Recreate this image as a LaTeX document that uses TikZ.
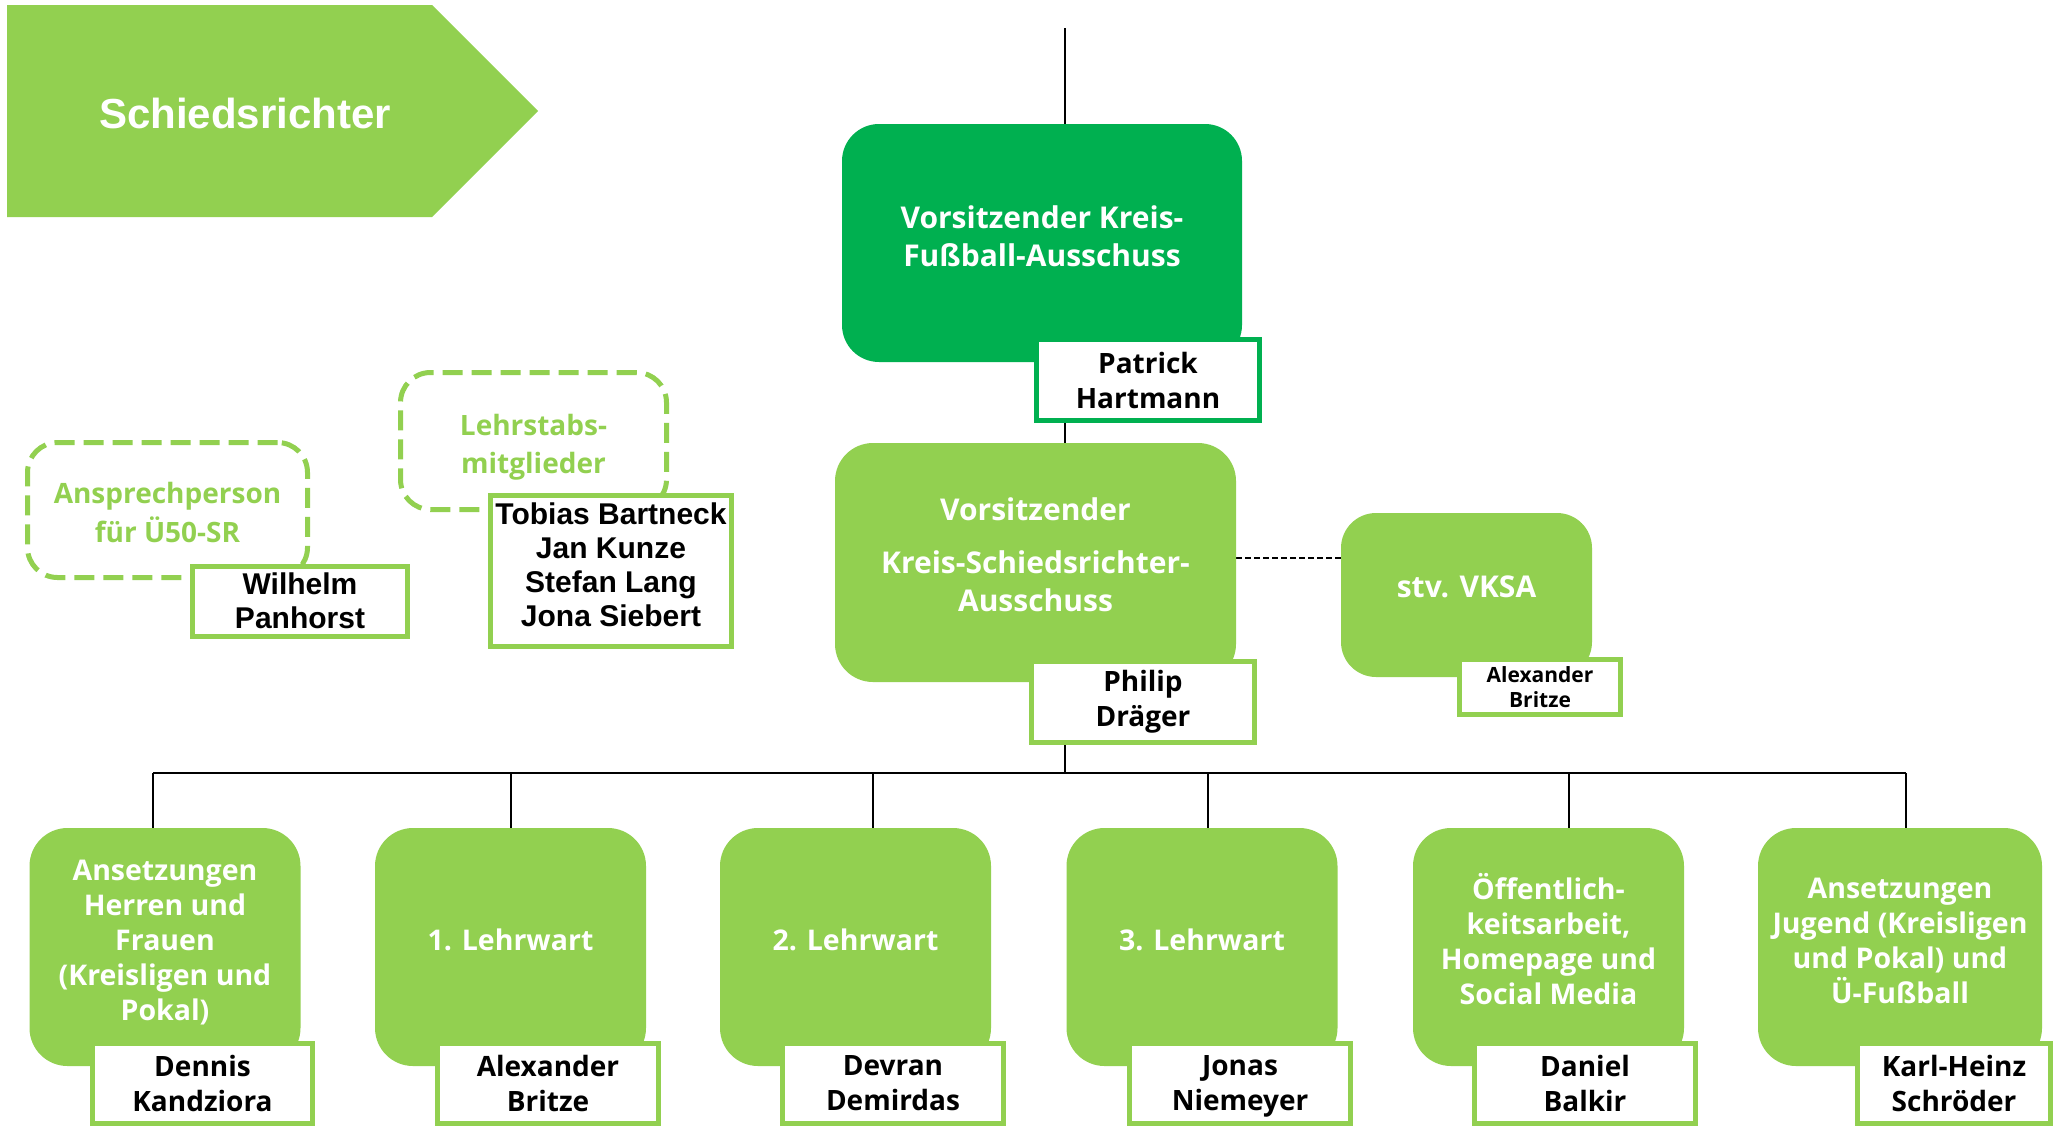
\documentclass[tikz,border=0pt]{standalone}
\usepackage{fontspec}
\setmainfont{Open Sans}
\newfontfamily\arialf{Liberation Sans}
\usetikzlibrary{backgrounds}
\definecolor{dgreen}{HTML}{00B050}
\definecolor{lgreen}{HTML}{92D050}
\begin{document}
\begin{tikzpicture}[x=1pt,y=-1pt,
  conn/.style={draw=black,line width=2.2pt},
  dconn/.style={draw=black,line width=2pt,dash pattern=on 6pt off 3pt},
  bannertext/.style={text=white,font=\arialf\bfseries\fontsize{42}{50}\selectfont,inner sep=0pt},
  ttl30/.style={text=white,align=center,inner sep=0pt,font=\bfseries\fontsize{30}{38}\selectfont},
  ttl28/.style={text=white,align=center,inner sep=0pt,font=\bfseries\fontsize{28.5}{35}\selectfont},
  gttl/.style={text=lgreen,align=center,inner sep=0pt,font=\bfseries\fontsize{28}{38.5}\selectfont},
  topbox/.style={fill=dgreen,rounded corners=37pt,inner sep=0pt},
  greenbox/.style={fill=lgreen,rounded corners=38pt,inner sep=0pt},
  subbox/.style={fill=lgreen,rounded corners=38pt,inner sep=0pt,
    minimum width=271pt,minimum height=238pt},
  namebox/.style={draw=lgreen,line width=5pt,fill=white,inner sep=0pt,text=black,align=center,
    font=\bfseries\fontsize{28}{35}\selectfont},
  dnamebox/.style={namebox,draw=dgreen},
  smallname/.style={namebox,font=\bfseries\fontsize{21}{25}\selectfont},
  arialname/.style={namebox,font=\arialf\bfseries\fontsize{30}{34}\selectfont},
  arialtxt/.style={text=black,align=center,inner sep=0pt,font=\arialf\bfseries\fontsize{30}{34}\selectfont},
  dashbox/.style={draw=lgreen,line width=5pt,dash pattern=on 20pt off 9pt,rounded corners=30pt,
    inner sep=0pt},
]
\useasboundingbox (0,0) rectangle (2055,1128);

% banner
\fill[lgreen] (7,5) -- (432,5) -- (538,111) -- (432,217) -- (7,217) -- cycle;
\node[bannertext] (banner) at (245,113) {Schiedsrichter};

% coordinates for connectors
\coordinate (top) at (1065,28);
\coordinate (bus) at (1065,773);
\coordinate (d1) at (153,773);
\coordinate (d2) at (511,773);
\coordinate (d3) at (873,773);
\coordinate (d4) at (1208,773);
\coordinate (d5) at (1569,773);
\coordinate (d6) at (1906,773);
\coordinate (dl) at (1290,558);

% top
\node[topbox,minimum width=400pt,minimum height=238pt,
  label={[ttl30,name=mainT,yshift=6.5pt]center:{Vorsitzender Kreis-\\Fußball-Ausschuss}}] (main) at (1042,243) {};
\node[dnamebox,minimum width=223pt,minimum height=81pt] (pmain) at (1148,380)
  {Patrick\\Hartmann};

% VKSA
\node[greenbox,minimum width=401pt,minimum height=239pt,
  label={[ttl30,name=vksaT,yshift=7.5pt]center:{Vorsitzender\\[15pt]Kreis-Schiedsrichter-\\Ausschuss}}] (vksa) at (1035.5,562.5) {};
\node[namebox,minimum width=223pt,minimum height=81pt] (pvksa) at (1143,701.5)
  {Philip\\Dräger};

% stv
\node[greenbox,rounded corners=35pt,minimum width=251pt,minimum height=164pt,
  label={[ttl30,name=stvT,yshift=8pt]center:{stv. VKSA}}] (stv) at (1466.5,595) {};
\node[smallname,minimum width=161pt,minimum height=55pt] (pstv) at (1540,687)
  {Alexander\\Britze};

% dashed boxes
\node[dashbox,minimum width=280pt,minimum height=135pt,
  label={[gttl,name=u50T,yshift=-2.5pt]center:{Ansprechperson\\für Ü50-SR}}] (u50) at (167.5,510) {};
\node[arialname,minimum width=215pt,minimum height=70pt] (pu50) at (300,601)
  {Wilhelm\\Panhorst};
\node[dashbox,minimum width=266pt,minimum height=137pt,
  label={[gttl,name=lehrT,yshift=-6pt]center:{Lehrstabs-\\mitglieder}}] (lehr) at (533.5,441) {};
\node[arialname,minimum width=241pt,minimum height=151pt,
  label={[arialtxt,name=plehrT,yshift=6.5pt]center:{Tobias Bartneck\\Jan Kunze\\Stefan Lang\\Jona Siebert}}] (plehr) at (611,571) {};

% bottom row
\node[subbox,label={[ttl28,name=b1T,yshift=4pt]center:{Ansetzungen\\Herren und\\Frauen\\(Kreisligen und\\Pokal)}}] (b1) at (165,947) {};
\node[subbox,label={[ttl28,name=b2T,yshift=7pt]center:{1. Lehrwart}}] (b2) at (510.5,947) {};
\node[subbox,label={[ttl28,name=b3T,yshift=7pt]center:{2. Lehrwart}}] (b3) at (855.5,947) {};
\node[subbox,label={[ttl28,name=b4T,yshift=7pt]center:{3. Lehrwart}}] (b4) at (1202,947) {};
\node[subbox,label={[ttl28,name=b5T,yshift=8pt]center:{Öffentlich-\\keitsarbeit,\\Homepage und\\Social Media}}] (b5) at (1548.5,947) {};
\node[subbox,minimum width=284pt,label={[ttl28,name=b6T,yshift=6pt]center:{Ansetzungen\\Jugend (Kreisligen\\und Pokal) und\\Ü-Fußball}}] (b6) at (1900,947) {};

\node[namebox,minimum width=220pt,minimum height=80pt] (n1) at (202.5,1083) {Dennis\\Kandziora};
\node[namebox,minimum width=221pt,minimum height=80pt] (n2) at (548,1083) {Alexander\\Britze};
\node[namebox,minimum width=221pt,minimum height=80pt] (n3) at (893,1083) {Devran\\Demirdas};
\node[namebox,minimum width=221pt,minimum height=80pt,
  label={[text=black,align=center,inner sep=0pt,font=\bfseries\fontsize{28}{35}\selectfont,name=n4T,yshift=-3pt]center:{Jonas\\Niemeyer}}] (n4) at (1240,1083) {};
\node[namebox,minimum width=221pt,minimum height=80pt] (n5) at (1585,1083) {Daniel\\Balkir};
\node[namebox,minimum width=193pt,minimum height=80pt] (n6) at (1954,1083) {Karl-Heinz\\Schröder};

% connectors
\begin{scope}[on background layer]
\draw[conn] (top) -- (top |- main.north);
\draw[conn] (top |- main.south) -- (top |- vksa.north);
\draw[conn] (top |- vksa.south) -- (bus);
\draw[conn] (d1) -- (d6);
\foreach \i in {1,...,6} { \draw[conn] (d\i) -- (d\i |- b\i.north); }
\draw[dconn] (vksa.east |- dl) -- (stv.west |- dl);
\end{scope}
\end{tikzpicture}
\end{document}
